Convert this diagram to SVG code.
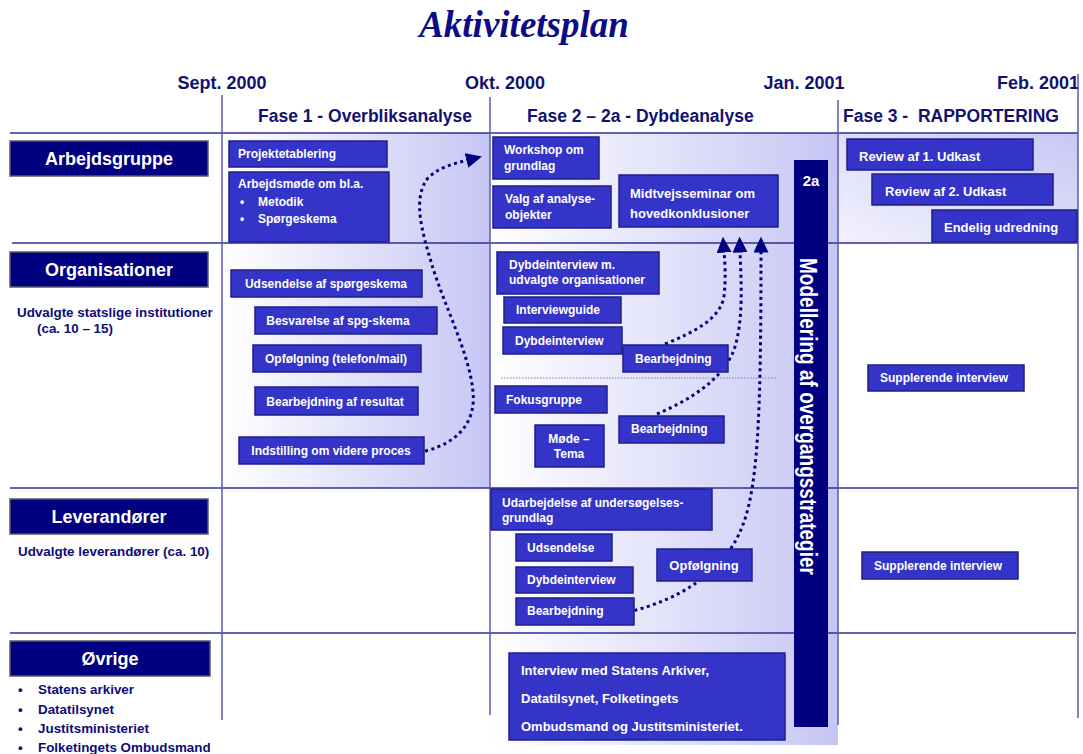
<svg xmlns="http://www.w3.org/2000/svg" width="1083" height="754" viewBox="0 0 1083 754">
<style>
text{font-family:"Liberation Sans",Arial,sans-serif;font-weight:bold}
.title{font-family:"Liberation Serif","Times New Roman",serif;font-style:italic;font-size:37px;fill:#0c0c84}
.date{font-size:18px;fill:#12126e;text-anchor:middle}
.phase{font-size:17.5px;fill:#12126e;white-space:pre}
.lbl{fill:#000080;stroke:#5a5a6a;stroke-width:1.5}
.lt{font-size:18px;fill:#fff;text-anchor:middle}
.desc{font-size:13.4px;fill:#0c0c78}
.box{fill:#3434c8;stroke:#1e1e8c;stroke-width:1.5}
.bt{font-size:12px;fill:#fff}
.bt13{font-size:13px;fill:#fff}
.c{text-anchor:middle}
.hl{stroke:#2e2e96;stroke-width:1.5}
.vl{stroke:#5a5aae;stroke-width:1.5}
.dot{fill:none;stroke:#000080;stroke-width:3;stroke-dasharray:3 3.5}
</style>
<defs>
<linearGradient id="g1" x1="0" y1="0" x2="1" y2="0"><stop offset="0" stop-color="#ffffff"/><stop offset="1" stop-color="#c6c6f5"/></linearGradient>
<linearGradient id="g3" x1="0" y1="1" x2="1" y2="0"><stop offset="0" stop-color="#f2f2fd"/><stop offset="1" stop-color="#c8c8f5"/></linearGradient>
<marker id="ah" viewBox="0 0 10 10" refX="1" refY="5" markerWidth="16" markerHeight="15" markerUnits="userSpaceOnUse" orient="auto" preserveAspectRatio="none"><path d="M0,0 L10,5 L0,10 z" fill="#000080"/></marker>
</defs>
<rect width="1083" height="754" fill="#fff"/>
<g id="backgrounds">
<rect x="222" y="133" width="268" height="355" fill="url(#g1)"/>
<rect x="490" y="133" width="348" height="612" fill="url(#g1)"/>
<rect x="838" y="133" width="240" height="110" fill="url(#g3)"/>
</g>
<text class="title" x="524" y="37" text-anchor="middle">Aktivitetsplan</text>
<g id="header">
<text class="date" x="222" y="89">Sept. 2000</text>
<text class="date" x="505" y="89">Okt. 2000</text>
<text class="date" x="804" y="89">Jan. 2001</text>
<text class="date" x="1038" y="89">Feb. 2001</text>
<text class="phase" x="258" y="122">Fase 1 - Overbliksanalyse</text>
<text class="phase" x="527" y="122">Fase 2 – 2a - Dybdeanalyse</text>
<text class="phase" x="843" y="122">Fase 3 -  RAPPORTERING</text>
</g>
<g id="grid">
<line class="hl" x1="10" y1="133" x2="1078" y2="133"/>
<line class="hl" x1="12" y1="243" x2="1078" y2="243"/>
<line class="hl" x1="10" y1="488" x2="1078" y2="488"/>
<line class="hl" x1="10" y1="633" x2="1076" y2="633"/>
<line class="vl" x1="222" y1="95" x2="222" y2="720"/>
<line class="vl" x1="490" y1="97" x2="490" y2="715"/>
<line class="vl" x1="838" y1="100" x2="838" y2="725"/>
<line class="vl" x1="1078" y1="74" x2="1078" y2="718"/>
<line x1="501" y1="378" x2="776" y2="378" stroke="#7a7ab0" stroke-width="1" stroke-dasharray="1.5 1.5"/>
</g>
<g id="row-labels">
<g id="lbl-arbejdsgruppe"><rect class="lbl" x="10" y="141" width="198" height="35"/><text class="lt" x="109" y="165">Arbejdsgruppe</text></g>
<g id="lbl-organisationer"><rect class="lbl" x="10" y="252" width="198" height="35"/><text class="lt" x="109" y="276">Organisationer</text>
<text class="desc" x="17" y="317">Udvalgte statslige institutioner</text><text class="desc" x="37" y="333">(ca. 10 – 15)</text></g>
<g id="lbl-leverandorer"><rect class="lbl" x="10" y="499" width="198" height="35"/><text class="lt" x="109" y="523">Leverandører</text>
<text class="desc" x="18" y="556">Udvalgte leverandører (ca. 10)</text></g>
<g id="lbl-ovrige"><rect class="lbl" x="10" y="641" width="200" height="35"/><text class="lt" x="110" y="665">Øvrige</text>
<text class="desc" x="18" y="694">•</text><text class="desc" x="38" y="694">Statens arkiver</text>
<text class="desc" x="18" y="714">•</text><text class="desc" x="38" y="714">Datatilsynet</text>
<text class="desc" x="18" y="733">•</text><text class="desc" x="38" y="733">Justitsministeriet</text>
<text class="desc" x="18" y="752">•</text><text class="desc" x="38" y="752">Folketingets Ombudsmand</text></g>
</g>
<g id="connectors">
<path class="dot" d="M425,451 C458,443 476,422 473,392 C470,355 444,305 432,265 C422,232 412,198 428,178 C438,168 452,164 468,160" marker-end="url(#ah)"/>
<path class="dot" d="M665,344 C695,332 721,318 724,296 C726,278 725,264 724,251" marker-end="url(#ah)"/>
<path class="dot" d="M657,414 C690,400 722,380 734,350 C744,320 741,280 740,251" marker-end="url(#ah)"/>
<path class="dot" d="M628,612 C680,600 722,572 740,532 C758,492 761,420 761,251" marker-end="url(#ah)"/>
</g>
<g id="bar-2a">
<rect x="794" y="160" width="34" height="567" fill="#000080"/>
<text x="811" y="186" font-size="15" fill="#fff" text-anchor="middle">2a</text>
<text transform="translate(800,258) rotate(90)" font-size="23" fill="#fff" textLength="317" lengthAdjust="spacingAndGlyphs">Modellering af overgangsstrategier</text>
</g>
<g id="nodes">
<g id="n-projektetablering"><rect class="box" x="229" y="141" width="158" height="26"/><text class="bt" x="238" y="158">Projektetablering</text></g>
<g id="n-arbejdsmoede"><rect class="box" x="229" y="172" width="160" height="70"/><text class="bt" x="238" y="188">Arbejdsmøde om bl.a.</text>
<text class="bt" x="240" y="206">•</text><text class="bt" x="258" y="206">Metodik</text>
<text class="bt" x="240" y="223">•</text><text class="bt" x="258" y="223">Spørgeskema</text></g>
<g id="n-udsendelse-spg"><rect class="box" x="231" y="270" width="191" height="27"/><text class="bt c" x="326" y="288">Udsendelse af spørgeskema</text></g>
<g id="n-besvarelse"><rect class="box" x="255" y="307" width="182" height="27"/><text class="bt c" x="338" y="325">Besvarelse af spg-skema</text></g>
<g id="n-opfoelgning-tel"><rect class="box" x="253" y="345" width="168" height="27"/><text class="bt c" x="336" y="363">Opfølgning (telefon/mail)</text></g>
<g id="n-bearb-resultat"><rect class="box" x="255" y="387" width="163" height="28"/><text class="bt c" x="335" y="406">Bearbejdning af resultat</text></g>
<g id="n-indstilling"><rect class="box" x="239" y="437" width="185" height="27"/><text class="bt c" x="331" y="455">Indstilling om videre proces</text></g>
<g id="n-workshop"><rect class="box" x="493" y="137" width="106" height="42"/><text class="bt" x="504" y="154">Workshop om</text><text class="bt" x="504" y="170">grundlag</text></g>
<g id="n-valg"><rect class="box" x="493" y="186" width="118" height="42"/><text class="bt" x="505" y="203">Valg af analyse-</text><text class="bt" x="505" y="219">objekter</text></g>
<g id="n-midtvejs"><rect class="box" x="619" y="175" width="159" height="52"/><text class="bt13" x="630" y="198">Midtvejsseminar om</text><text class="bt13" x="630" y="218">hovedkonklusioner</text></g>
<g id="n-dybde-m"><rect class="box" x="497" y="252" width="162" height="42"/><text class="bt" x="509" y="269">Dybdeinterview m.</text><text class="bt" x="509" y="284">udvalgte organisationer</text></g>
<g id="n-interviewguide"><rect class="box" x="504" y="297" width="117" height="26"/><text class="bt" x="516" y="314">Interviewguide</text></g>
<g id="n-dybde-1"><rect class="box" x="503" y="327" width="119" height="27"/><text class="bt" x="515" y="345">Dybdeinterview</text></g>
<g id="n-bearb-1"><rect class="box" x="623" y="345" width="105" height="27"/><text class="bt" x="635" y="363">Bearbejdning</text></g>
<g id="n-fokusgruppe"><rect class="box" x="495" y="386" width="112" height="27"/><text class="bt" x="506" y="404">Fokusgruppe</text></g>
<g id="n-moede"><rect class="box" x="535" y="425" width="69" height="42"/><text class="bt c" x="569" y="443">Møde –</text><text class="bt c" x="569" y="458">Tema</text></g>
<g id="n-bearb-2"><rect class="box" x="619" y="416" width="105" height="27"/><text class="bt" x="631" y="433">Bearbejdning</text></g>
<g id="n-udarbejdelse"><rect class="box" x="491" y="489" width="221" height="41"/><text class="bt" x="502" y="507">Udarbejdelse af undersøgelses-</text><text class="bt" x="502" y="522">grundlag</text></g>
<g id="n-udsendelse"><rect class="box" x="516" y="534" width="96" height="27"/><text class="bt" x="527" y="552">Udsendelse</text></g>
<g id="n-dybde-2"><rect class="box" x="516" y="567" width="117" height="26"/><text class="bt" x="527" y="584">Dybdeinterview</text></g>
<g id="n-bearb-3"><rect class="box" x="516" y="598" width="118" height="27"/><text class="bt" x="527" y="615">Bearbejdning</text></g>
<g id="n-opfoelgning"><rect class="box" x="657" y="549" width="95" height="32"/><text class="bt13 c" x="704" y="570">Opfølgning</text></g>
<g id="n-interview-oevrige"><rect class="box" x="509" y="653" width="276" height="87"/>
<text class="bt13" x="521" y="675">Interview med Statens Arkiver,</text>
<text class="bt13" x="521" y="703">Datatilsynet, Folketingets</text>
<text class="bt13" x="521" y="731">Ombudsmand og Justitsministeriet.</text></g>
<g id="n-review1"><rect class="box" x="847" y="139" width="186" height="31"/><text class="bt13" x="859" y="161">Review af 1. Udkast</text></g>
<g id="n-review2"><rect class="box" x="872" y="174" width="181" height="31"/><text class="bt13" x="885" y="196">Review af 2. Udkast</text></g>
<g id="n-endelig"><rect class="box" x="932" y="210" width="145" height="32"/><text class="bt13" x="944" y="232">Endelig udredning</text></g>
<g id="n-suppl-1"><rect class="box" x="868" y="365" width="156" height="26"/><text class="bt" x="880" y="382">Supplerende interview</text></g>
<g id="n-suppl-2"><rect class="box" x="862" y="552" width="156" height="27"/><text class="bt" x="874" y="570">Supplerende interview</text></g>
</g>
</svg>
